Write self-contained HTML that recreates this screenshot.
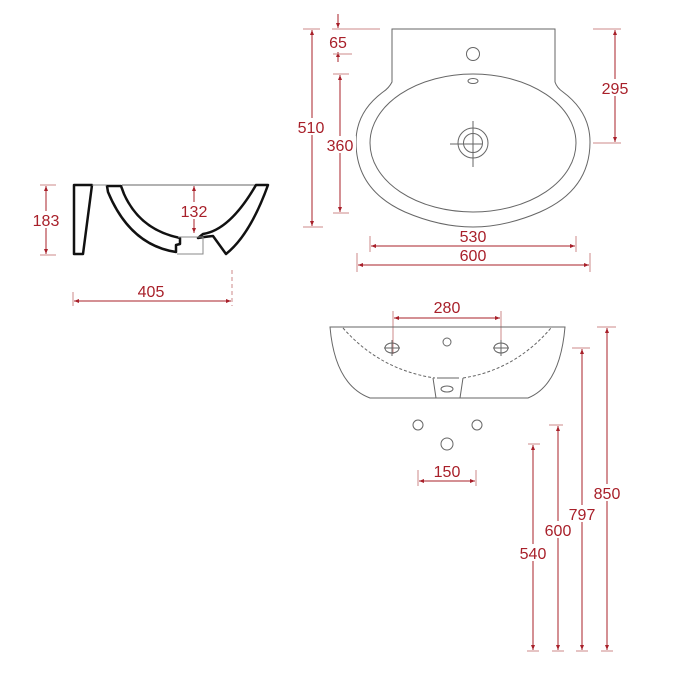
<!DOCTYPE html>
<html><head><meta charset="utf-8"><style>
html,body{margin:0;padding:0;background:#fff;}
svg{display:block}
text{font-family:"Liberation Sans",sans-serif;font-size:16px;fill:#a8202a;}
</style></head><body>
<svg width="700" height="700" viewBox="0 0 700 700" xmlns="http://www.w3.org/2000/svg">
<defs>
<marker id="a" viewBox="0 0 10 10" refX="10" refY="5" markerWidth="5" markerHeight="7" orient="auto-start-reverse"><path d="M0,1 L10,5 L0,9 z" fill="#a8202a"/></marker>
</defs>
<g stroke="#c88" stroke-width="1" fill="none">
<line x1="312" y1="30" x2="312" y2="226" stroke="#a8202a" marker-start="url(#a)" marker-end="url(#a)"/>
<line x1="303" y1="29" x2="320" y2="29"/><line x1="303" y1="227" x2="323" y2="227"/>
<line x1="338" y1="14" x2="338" y2="28" stroke="#a8202a" marker-end="url(#a)"/>
<line x1="338" y1="52" x2="338" y2="62" stroke="#a8202a" marker-start="url(#a)"/>
<line x1="332" y1="29" x2="380" y2="29"/><line x1="333" y1="54" x2="352" y2="54"/>
<line x1="340" y1="75" x2="340" y2="212" stroke="#a8202a" marker-start="url(#a)" marker-end="url(#a)"/>
<line x1="333" y1="74" x2="349" y2="74"/><line x1="333" y1="213" x2="349" y2="213"/>
<line x1="615" y1="30" x2="615" y2="142" stroke="#a8202a" marker-start="url(#a)" marker-end="url(#a)"/>
<line x1="593" y1="29" x2="621" y2="29"/><line x1="593" y1="143" x2="621" y2="143"/>
<line x1="371" y1="246" x2="575" y2="246" stroke="#a8202a" marker-start="url(#a)" marker-end="url(#a)"/>
<line x1="370" y1="236" x2="370" y2="252"/><line x1="576" y1="236" x2="576" y2="252"/>
<line x1="358" y1="265" x2="589" y2="265" stroke="#a8202a" marker-start="url(#a)" marker-end="url(#a)"/>
<line x1="357" y1="253" x2="357" y2="272"/><line x1="590" y1="253" x2="590" y2="272"/>
<line x1="46" y1="186" x2="46" y2="254" stroke="#a8202a" marker-start="url(#a)" marker-end="url(#a)"/>
<line x1="40" y1="185" x2="56" y2="185"/><line x1="40" y1="255" x2="56" y2="255"/>
<line x1="194" y1="186" x2="194" y2="233" stroke="#a8202a" marker-start="url(#a)" marker-end="url(#a)"/>
<line x1="74" y1="301" x2="231" y2="301" stroke="#a8202a" marker-start="url(#a)" marker-end="url(#a)"/>
<line x1="73" y1="292" x2="73" y2="306"/><line x1="232" y1="270" x2="232" y2="306" stroke-dasharray="4,3"/>
<line x1="394" y1="318" x2="500" y2="318" stroke="#a8202a" marker-start="url(#a)" marker-end="url(#a)"/>
<line x1="393" y1="311" x2="393" y2="354"/><line x1="501" y1="311" x2="501" y2="354"/>
<line x1="419" y1="481" x2="475" y2="481" stroke="#a8202a" marker-start="url(#a)" marker-end="url(#a)"/>
<line x1="418" y1="470" x2="418" y2="486"/><line x1="476" y1="470" x2="476" y2="486"/>
<line x1="607" y1="328" x2="607" y2="650" stroke="#a8202a" marker-start="url(#a)" marker-end="url(#a)"/>
<line x1="597" y1="327" x2="616" y2="327"/><line x1="601" y1="651" x2="613" y2="651"/>
<line x1="582" y1="349" x2="582" y2="650" stroke="#a8202a" marker-start="url(#a)" marker-end="url(#a)"/>
<line x1="572" y1="348" x2="590" y2="348"/><line x1="576" y1="651" x2="588" y2="651"/>
<line x1="558" y1="426" x2="558" y2="650" stroke="#a8202a" marker-start="url(#a)" marker-end="url(#a)"/>
<line x1="549" y1="425" x2="563" y2="425"/><line x1="552" y1="651" x2="564" y2="651"/>
<line x1="533" y1="445" x2="533" y2="650" stroke="#a8202a" marker-start="url(#a)" marker-end="url(#a)"/>
<line x1="528" y1="444" x2="540" y2="444"/><line x1="527" y1="651" x2="539" y2="651"/>
</g>
<g stroke="#666" stroke-width="1" fill="none">
<path d="M392,29 L555,29 L555,82 Q557,88 563,92 Q590,112 590,142 Q590,190 540,212 Q505,227 473,227 Q440,227 405,212 Q356,190 356,142 Q356,112 383,92 Q389,88 392,82 Z"/>
<ellipse cx="473" cy="143" rx="103" ry="69"/>
<circle cx="473" cy="54" r="6.5"/>
<ellipse cx="473" cy="81" rx="5" ry="2.5"/>
<circle cx="473" cy="143" r="15"/><circle cx="473" cy="143" r="9.5"/>
<line x1="473" y1="121" x2="473" y2="167"/><line x1="450" y1="144" x2="482" y2="144"/>
<path d="M330,327 L565,327 Q560,385 528,398 L370,398 Q335,385 330,327 Z"/>
<path d="M343,328 Q380,370 435,378 M463,378 Q515,370 551,328" stroke-dasharray="3,2"/>
<path d="M433,378 L436,398 M463,378 L460,398"/>
<path d="M437,378 L459,378" />
<ellipse cx="447" cy="389" rx="6" ry="3"/>
<ellipse cx="392" cy="348" rx="7" ry="5"/><line x1="384" y1="348" x2="400" y2="348"/><line x1="392" y1="340" x2="392" y2="356"/>
<ellipse cx="501" cy="348" rx="7" ry="5"/><line x1="493" y1="348" x2="509" y2="348"/><line x1="501" y1="340" x2="501" y2="356"/>
<circle cx="447" cy="342" r="4"/>
<circle cx="418" cy="425" r="5"/><circle cx="477" cy="425" r="5"/><circle cx="447" cy="444" r="6"/>
<line x1="122" y1="185" x2="258" y2="185"/>
</g>
<g stroke="#111" stroke-width="2.5" fill="#fff" stroke-linejoin="round">
<path d="M74,185 L92,185 L83,254 L74,254 Z"/>
<path d="M107,186 L121,186 L124,194 Q140,230 180,238 L180,244 L176,245 L176,252 Q130,245 108,192 Z"/>
<path d="M256,185 L268,185 Q250,235 226,254 L213,236 Q203,237 198,238 L203,234 Q230,230 256,185 Z"/>
</g>
<g stroke="#888" stroke-width="1" fill="none">
<path d="M92,185 L107,185"/><path d="M178,237 L203,237 L203,254 L177,254"/>
</g>
<g text-anchor="middle">
<rect x="297" y="118" width="30" height="17" fill="#fff"/><text x="311" y="133">510</text>
<text x="338" y="48">65</text>
<rect x="325" y="136" width="31" height="17" fill="#fff"/><text x="340" y="151">360</text>
<rect x="599" y="79" width="32" height="17" fill="#fff"/><text x="615" y="94">295</text>
<text x="473" y="242">530</text>
<text x="473" y="261">600</text>
<rect x="31" y="211" width="30" height="17" fill="#fff"/><text x="46" y="226">183</text>
<rect x="179" y="202" width="32" height="17" fill="#fff"/><text x="194" y="217">132</text>
<text x="151" y="297">405</text>
<text x="447" y="313">280</text>
<text x="447" y="477">150</text>
<rect x="592" y="484" width="30" height="17" fill="#fff"/><text x="607" y="499">850</text>
<rect x="567" y="505" width="30" height="17" fill="#fff"/><text x="582" y="520">797</text>
<rect x="543" y="521" width="30" height="17" fill="#fff"/><text x="558" y="536">600</text>
<rect x="518" y="544" width="30" height="17" fill="#fff"/><text x="533" y="559">540</text>
</g>
</svg>
</body></html>
